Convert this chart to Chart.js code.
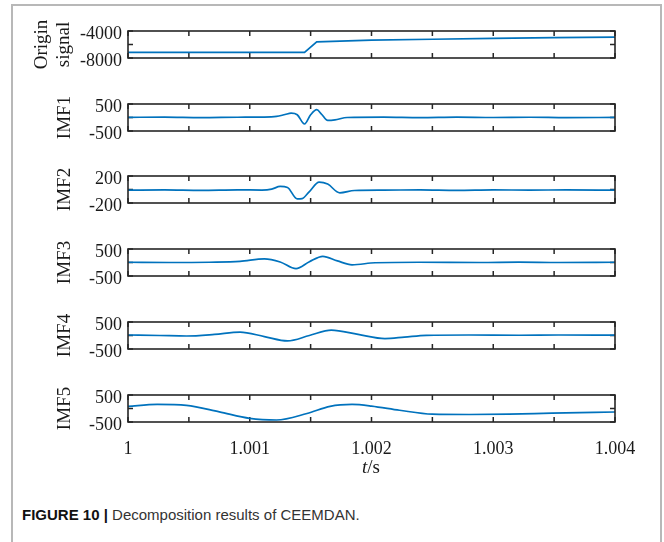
<!DOCTYPE html>
<html>
<head>
<meta charset="utf-8">
<script src="https://cdn.jsdelivr.net/npm/chart.js@4.4.0/dist/chart.umd.min.js"></script>
<style>
  body { margin: 0; background: #fff; }
  #fig { position: relative; width: 664px; height: 542px; overflow: hidden; background: #fff; }
  #frame { position: absolute; left: 11px; top: 4px; width: 647px; height: 560px; border: 2px solid #b8b8b8; }
  .panel { position: absolute; left: 12px; }
  #xlabel { position: absolute; left: 321px; width: 100px; top: 456px; text-align: center;
            font: 19px "Liberation Serif", serif; line-height: 22px; color: #1a1a1a; }
  #caption { position: absolute; left: 22px; top: 505px; font: 15px "Liberation Sans", Arial, sans-serif;
             line-height: 20px; color: #333; }
  #caption b { color: #111; }
</style>
</head>
<body>
<div id="fig">
  <div id="frame"></div>
  <canvas class="panel" id="p0" width="648" height="67"></canvas>
  <canvas class="panel" id="p1" width="648" height="67"></canvas>
  <canvas class="panel" id="p2" width="648" height="67"></canvas>
  <canvas class="panel" id="p3" width="648" height="67"></canvas>
  <canvas class="panel" id="p4" width="648" height="67"></canvas>
  <canvas class="panel" id="p5" width="648" height="93"></canvas>
  <div id="xlabel"><i>t</i>/s</div>
  <div id="caption"><b>FIGURE 10 |</b> Decomposition results of CEEMDAN.</div>
</div>
<script>
// time axis ticks
const timeTicks = [1, 1.0005, 1.001, 1.0015, 1.002, 1.0025, 1.003, 1.0035, 1.004];
const timeLabels = ["1", "", "1.001", "", "1.002", "", "1.003", "", "1.004"];

// origin signal
const originT = [1, 1.0007, 1.00145, 1.00155, 1.002, 1.0025, 1.003, 1.0035, 1.004];
const originV = [-7160, -7160, -7160, -5600, -5340, -5220, -5100, -4990, -4900];
const originTicks = [-8000, -6000, -4000];

// IMF1
const imf1T = [1, 1.0003, 1.0006, 1.0009, 1.0011, 1.00122, 1.00129, 1.00134, 1.00139, 1.00145, 1.0015,
  1.00155, 1.00159, 1.00164, 1.0017, 1.0018, 1.0021, 1.0024, 1.0027, 1.003, 1.0033, 1.0036, 1.004];
const imf1V = [5, 15, -5, 10, 15, 40, 110, 160, 100, -240, 100, 290, 120, -110, -90, 0, 15, -5, 15, 0, 10, -5, 5];
const imf1Ticks = [-500, 0, 500];

// IMF2
const imf2T = [1, 1.0003, 1.0006, 1.0009, 1.0011, 1.00118, 1.00125, 1.00131, 1.00139, 1.00143, 1.00149,
  1.00157, 1.00164, 1.00174, 1.00186, 1.0021, 1.0024, 1.0027, 1.003, 1.0033, 1.0036, 1.004];
const imf2V = [-10, -5, -12, -5, -8, 5, 45, 30, -140, -135, -30, 110, 80, -50, -15, -10, -5, -12, -5, -10, -5, -10];
const imf2Ticks = [-200, 0, 200];

// IMF3
const imf3T = [1, 1.00034, 1.00067, 1.00092, 1.00112, 1.00125, 1.00138, 1.00149, 1.0016, 1.00172,
  1.00184, 1.00203, 1.00239, 1.00289, 1.00321, 1.00354, 1.004];
const imf3V = [10, 0, 10, 40, 135, 20, -230, 30, 230, 60, -85, -10, 10, 0, 15, 0, 10];
const imf3Ticks = [-500, 0, 500];

// IMF4
const imf4T = [1, 1.00026, 1.00048, 1.00071, 1.00092, 1.00112, 1.00131, 1.00149, 1.00167, 1.00189,
  1.00211, 1.00227, 1.00245, 1.0028, 1.00321, 1.00354, 1.004];
const imf4V = [18, 0, -18, 40, 126, -40, -200, 0, 200, 40, -114, -60, 6, 18, 10, 18, 15];
const imf4Ticks = [-500, 0, 500];

// IMF5
const imf5T = [1, 1.00024, 1.00048, 1.00075, 1.001, 1.00122, 1.00147, 1.00166, 1.00184, 1.002,
  1.00223, 1.0025, 1.0028, 1.00313, 1.00348, 1.004];
const imf5V = [78, 150, 114, -126, -366, -426, -186, 80, 150, 90, -66, -210, -222, -210, -174, -130];
const imf5Ticks = [-500, 0, 500];

const panels = [
  { id: "p0", title: ["Origin", "signal"], t: originT, v: originV, ticks: originTicks, top: 31, titlePad: 19, smooth: false },
  { id: "p1", title: "IMF1", t: imf1T, v: imf1V, ticks: imf1Ticks, top: 104, titlePad: 42, smooth: true },
  { id: "p2", title: "IMF2", t: imf2T, v: imf2V, ticks: imf2Ticks, top: 176, titlePad: 42, smooth: true },
  { id: "p3", title: "IMF3", t: imf3T, v: imf3V, ticks: imf3Ticks, top: 249, titlePad: 42, smooth: true },
  { id: "p4", title: "IMF4", t: imf4T, v: imf4V, ticks: imf4Ticks, top: 322, titlePad: 42, smooth: true },
  { id: "p5", title: "IMF5", t: imf5T, v: imf5V, ticks: imf5Ticks, top: 395, titlePad: 42, smooth: true }
];

const serif = "'Liberation Serif', 'Times New Roman', serif";
const PAD = 20;

const framePlugin = {
  id: "frame",
  beforeDatasetsDraw(chart) {
    const { ctx, chartArea: a, scales: { x, y } } = chart;
    ctx.save();
    ctx.strokeStyle = "#262626";
    ctx.lineWidth = 1.5;
    ctx.beginPath();
    timeTicks.forEach(v => {
      const px = x.getPixelForValue(v);
      ctx.moveTo(px, a.top); ctx.lineTo(px, a.top + 5);
      ctx.moveTo(px, a.bottom); ctx.lineTo(px, a.bottom - 5);
    });
    y.ticks.forEach(t => {
      const py = y.getPixelForValue(t.value);
      ctx.moveTo(a.left, py); ctx.lineTo(a.left + 5, py);
      ctx.moveTo(a.right, py); ctx.lineTo(a.right - 5, py);
    });
    ctx.stroke();
    ctx.restore();
  },
  afterDatasetsDraw(chart) {
    const { ctx, chartArea: a } = chart;
    ctx.save();
    ctx.strokeStyle = "#262626";
    ctx.lineWidth = 1.6;
    ctx.strokeRect(a.left, a.top, a.right - a.left, a.bottom - a.top);
    ctx.restore();
  }
};

panels.forEach((p, i) => {
  const last = i === panels.length - 1;
  const cv = document.getElementById(p.id);
  cv.style.top = (p.top - PAD) + "px";
  new Chart(cv.getContext("2d"), {
    type: "line",
    data: {
      datasets: [{
        data: p.t.map((t, k) => ({ x: t, y: p.v[k] })),
        borderColor: "#0072BD",
        borderWidth: 1.7,
        pointRadius: 0,
        fill: false,
        tension: 0,
        cubicInterpolationMode: p.smooth ? "monotone" : "default"
      }]
    },
    options: {
      responsive: false,
      animation: false,
      events: [],
      layout: { padding: { top: PAD, bottom: last ? 6 : PAD, left: 0, right: 45 } },
      plugins: { legend: { display: false }, tooltip: { enabled: false } },
      scales: {
        x: {
          type: "linear",
          min: 1,
          max: 1.004,
          afterBuildTicks: s => { s.ticks = timeTicks.map(v => ({ value: v })); },
          afterFit: s => { s.height = last ? 40 : 0; },
          grid: { display: false, drawTicks: false },
          border: { display: false },
          ticks: {
            display: last,
            autoSkip: false,
            maxRotation: 0,
            padding: 16,
            color: "#1a1a1a",
            font: { family: serif, size: 18 },
            callback: (v, idx) => timeLabels[idx]
          }
        },
        y: {
          min: p.ticks[0],
          max: p.ticks[p.ticks.length - 1],
          afterBuildTicks: s => { s.ticks = p.ticks.map(v => ({ value: v })); },
          afterFit: s => { s.width = 116; },
          grid: { display: false, drawTicks: false },
          border: { display: false },
          ticks: {
            autoSkip: false,
            padding: 6,
            labelOffset: 3,
            color: "#1a1a1a",
            font: { family: serif, size: 18 },
            callback: (v, idx) => idx === 1 ? "" : String(v)
          },
          title: {
            display: true,
            text: p.title,
            color: "#1a1a1a",
            padding: { top: p.titlePad, bottom: 0 },
            font: { family: serif, size: 19, lineHeight: 1.15 }
          }
        }
      }
    },
    plugins: [framePlugin]
  });
});
</script>
</body>
</html>
